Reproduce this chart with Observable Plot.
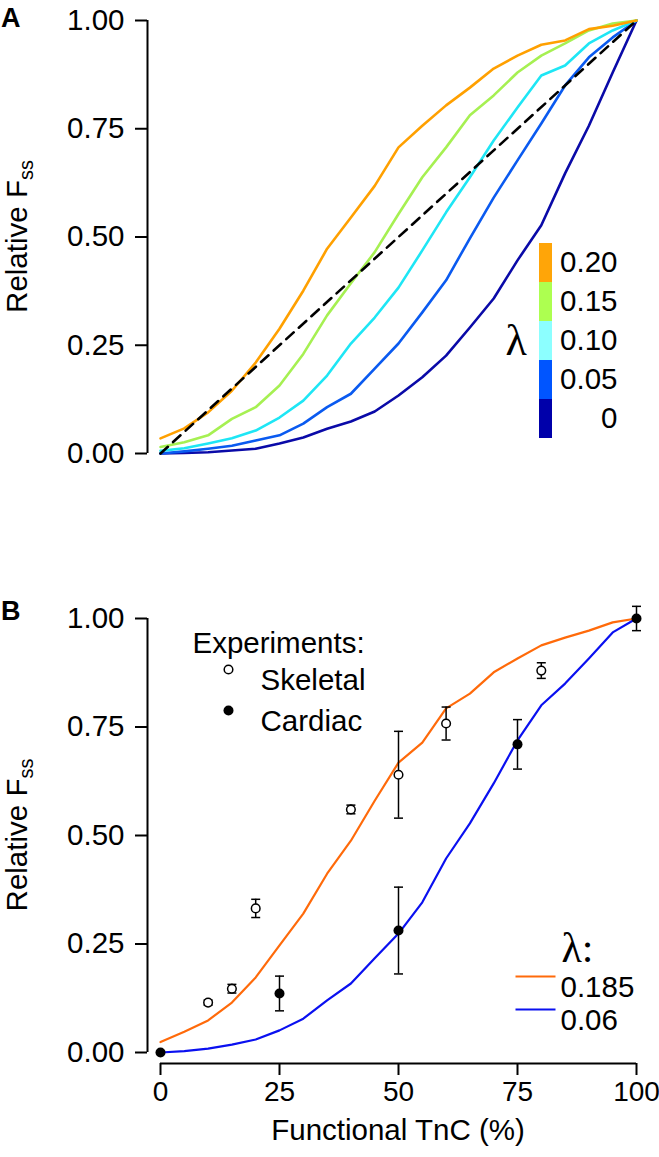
<!DOCTYPE html>
<html><head><meta charset="utf-8">
<script src="https://cdn.jsdelivr.net/npm/d3@7"></script>
<script src="https://cdn.jsdelivr.net/npm/@observablehq/plot@0.6"></script>
<style>
html,body{margin:0;padding:0;background:#fff;}
#wrap{position:relative;width:659px;height:1157px;overflow:hidden;}
#wrap > div{position:absolute;}
</style></head><body><div id="wrap"><div id="pa" style="left:0;top:0"></div><div id="cb" style="left:530px;top:231px"></div><div id="pb" style="left:0;top:560px"></div></div>
<script>
// ---------- data ----------
const tnc = [0,5,10,15,20,25,30,35,40,45,50,55,60,65,70,75,80,85,90,95,100];
// Panel A: relative Fss for each lambda
const lambdaLabels = ["0", "0.05", "0.10", "0.15", "0.20"];
const fssLam000 = [0,0.001,0.003,0.007,0.011,0.023,0.037,0.057,0.074,0.097,0.134,0.176,0.226,0.291,0.358,0.446,0.527,0.647,0.757,0.88,1.0];
const fssLam005 = [0,0.005,0.011,0.018,0.03,0.042,0.069,0.107,0.138,0.196,0.254,0.326,0.40,0.497,0.591,0.677,0.762,0.85,0.915,0.961,1.0];
const fssLam010 = [0.006,0.012,0.023,0.035,0.053,0.083,0.122,0.18,0.254,0.314,0.383,0.469,0.557,0.638,0.723,0.799,0.873,0.896,0.947,0.977,1.0];
const fssLam015 = [0.015,0.026,0.042,0.08,0.107,0.157,0.23,0.319,0.393,0.465,0.553,0.638,0.707,0.781,0.827,0.88,0.919,0.947,0.977,0.993,1.0];
const fssLam020 = [0.035,0.058,0.095,0.145,0.21,0.288,0.376,0.473,0.545,0.618,0.707,0.757,0.804,0.845,0.889,0.919,0.944,0.954,0.98,0.988,1.0];
const diagX = [0, 100];
const diagY = [0, 1];
// Panel B: model fits
const fitLambdas = ["0.185", "0.06"];
const fssFit185 = [0.024,0.048,0.074,0.115,0.173,0.247,0.32,0.412,0.488,0.58,0.668,0.714,0.793,0.827,0.876,0.908,0.938,0.956,0.972,0.991,1.0];
const fssFit06  = [0,0.003,0.009,0.018,0.03,0.051,0.078,0.12,0.159,0.217,0.274,0.346,0.447,0.528,0.62,0.719,0.8,0.85,0.908,0.968,1.0];
// Panel B: experiments
const skelX = [10,15,20,40,50,60,80];
const skelMean = [0.115,0.147,0.332,0.56,0.64,0.758,0.88];
const skelErr = [0.006,0.01,0.021,0.01,0.1,0.038,0.018];
const cardX = [0,25,50,75,100];
const cardMean = [0,0.136,0.281,0.71,1.0];
const cardErr = [0,0.04,0.1,0.057,0.028];
const yTicks = [0,0.25,0.5,0.75,1];
const xTicks = [0,25,50,75,100];

// ---------- styles ----------
const FS = 29.5;
const FONT = "'Liberation Sans', Arial, Helvetica, sans-serif";
const SERIF = "'Liberation Serif', 'Times New Roman', serif";
const colorsA = ["#0A0AA8", "#0A5AF0", "#1EE6F5", "#A6F052", "#FFA000"];
const colorbarColors = ["#0000AA", "#0055FF", "#8CFFFF", "#ADFF50", "#FFA508"];
const fitColors = ["#FF6A0A", "#0A10F0"];

const seriesA = [fssLam000, fssLam005, fssLam010, fssLam015, fssLam020];
const rowsA = [];
seriesA.forEach((vals, s) => vals.forEach((v, i) => rowsA.push({x: tnc[i], y: v, lam: lambdaLabels[s], color: colorsA[s]})));
const diag = diagX.map((x, i) => ({x, y: diagY[i]}));

const rowsB = [];
[fssFit185, fssFit06].forEach((vals, s) => vals.forEach((v, i) => rowsB.push({x: tnc[i], y: v, lam: fitLambdas[s], color: fitColors[s]})));
const skel = skelX.map((x, i) => ({x, y: skelMean[i], lo: skelMean[i] - skelErr[i], hi: skelMean[i] + skelErr[i]}));
const card = cardX.map((x, i) => ({x, y: cardMean[i], lo: cardMean[i] - cardErr[i], hi: cardMean[i] + cardErr[i]}));

const hbar = {draw(ctx, size) { const r = Math.sqrt(size / Math.PI); ctx.moveTo(-r, 0); ctx.lineTo(r, 0); }};
const baseStyle = {fontFamily: FONT, fontSize: FS + "px", background: "transparent", color: "black"};

function addYLabel(plot) {
  const yc = plot.scale("y").apply(0.5);
  const t = d3.select(plot).append("text")
    .attr("transform", `translate(27,${yc}) rotate(-90)`)
    .attr("text-anchor", "middle").attr("font-size", FS).attr("fill", "black");
  t.append("tspan").text("Relative F");
  t.append("tspan").attr("font-size", 20).attr("dy", 6).text("ss");
}
function addPanelLabel(plot, s, y) {
  d3.select(plot).append("text").attr("x", 1).attr("y", y).attr("text-anchor", "start")
    .attr("font-weight", "bold").attr("font-size", 27).attr("fill", "black").text(s);
}
const yAxis = () => Plot.axisY({anchor: "left", ticks: yTicks, tickFormat: ".2f", tickSize: 12, tickPadding: 11, label: null, strokeWidth: 2, fontSize: FS});

// ---------- Panel A ----------
const plotA = Plot.plot({
  width: 659, height: 470,
  marginTop: 20, marginBottom: 17, marginLeft: 147, marginRight: 23,
  style: baseStyle,
  x: {domain: [0, 100], insetLeft: 13, axis: null},
  y: {domain: [0, 1]},
  color: {type: "identity"},
  marks: [
    yAxis(),
    Plot.ruleX([0], {y1: 0, y2: 1, dx: -13, strokeWidth: 2}),
    Plot.line(rowsA, {x: "x", y: "y", z: "lam", stroke: "color", strokeWidth: 2.6}),
    Plot.line(diag, {x: "x", y: "y", stroke: "black", strokeWidth: 2.6, strokeDasharray: "10,7"})
  ]
});
addYLabel(plotA);
addPanelLabel(plotA, "A", 27);
document.getElementById("pa").append(plotA);

// colorbar legend for lambda
const cbOrder = lambdaLabels.slice().reverse();
const cbRows = cbOrder.map((l) => ({lam: l, color: colorbarColors[lambdaLabels.indexOf(l)]}));
const colorbar = Plot.plot({
  width: 100, height: 218,
  marginTop: 10, marginBottom: 10, marginLeft: 9, marginRight: 78,
  style: {...baseStyle, overflow: "visible"},
  y: {type: "band", domain: cbOrder, padding: 0, axis: null},
  color: {type: "identity"},
  marks: [
    Plot.cell(cbRows, {y: "lam", fill: "color"}),
    Plot.text(cbRows, {y: "lam", text: "lam", frameAnchor: "right", dx: 65, textAnchor: "end", fontSize: FS, fill: "black"}),
    Plot.text(["λ"], {frameAnchor: "left", dx: -34, text: d => d, fontSize: 44, fontFamily: SERIF, fill: "black"})
  ]
});
document.getElementById("cb").append(colorbar);

// ---------- Panel B ----------
const legendLine = (i) => Plot.dot([fitLambdas[i]], {frameAnchor: "top-left", dx: 388, dy: 358 + 33 * i, symbol: hbar, r: 20, stroke: fitColors[i], strokeWidth: 2.2});
const legendText = (s, dx, dy) => Plot.text([s], {frameAnchor: "top-left", dx, dy, text: d => d, textAnchor: "start", fontSize: FS, fill: "black"});
const plotB = Plot.plot({
  width: 659, height: 597,
  marginTop: 58, marginBottom: 94, marginLeft: 147, marginRight: 23,
  style: baseStyle,
  x: {domain: [0, 100], insetLeft: 13},
  y: {domain: [0, 1], insetBottom: 11},
  color: {type: "identity"},
  marks: [
    yAxis(),
    Plot.axisX({anchor: "bottom", ticks: xTicks, tickSize: 12, tickPadding: 6, label: null, strokeWidth: 2, fontSize: 28}),
    Plot.ruleX([0], {y1: 0, y2: 1, dx: -13, strokeWidth: 2}),
    Plot.ruleY([0], {x1: 0, x2: 100, dy: 11, strokeWidth: 2}),
    Plot.line(rowsB, {x: "x", y: "y", z: "lam", stroke: "color", strokeWidth: 2.2}),
    Plot.ruleX(skel, {x: "x", y1: "lo", y2: "hi", strokeWidth: 1.5}),
    Plot.dot(skel, {x: "x", y: "lo", symbol: hbar, r: 4.5, stroke: "black", strokeWidth: 1.5}),
    Plot.dot(skel, {x: "x", y: "hi", symbol: hbar, r: 4.5, stroke: "black", strokeWidth: 1.5}),
    Plot.dot(skel, {x: "x", y: "y", r: 4.3, stroke: "black", fill: "white", strokeWidth: 1.5}),
    Plot.ruleX(card, {x: "x", y1: "lo", y2: "hi", strokeWidth: 1.5}),
    Plot.dot(card, {x: "x", y: "lo", symbol: hbar, r: 4.5, stroke: "black", strokeWidth: 1.5}),
    Plot.dot(card, {x: "x", y: "hi", symbol: hbar, r: 4.5, stroke: "black", strokeWidth: 1.5}),
    Plot.dot(card, {x: "x", y: "y", r: 5, fill: "black"}),
    // legend: experiments
    legendText("Experiments:", 45, 14),
    Plot.dot(["Skeletal"], {frameAnchor: "top-left", dx: 81, dy: 51, r: 4.3, stroke: "black", fill: "white", strokeWidth: 1.5}),
    legendText("Skeletal", 113, 51),
    Plot.dot(["Cardiac"], {frameAnchor: "top-left", dx: 81, dy: 92, r: 5, fill: "black"}),
    legendText("Cardiac", 113, 92),
    // legend: lambda fits
    Plot.text(["λ:"], {frameAnchor: "top-left", dx: 414, dy: 314, text: d => d, textAnchor: "start", fontSize: 42, fontFamily: SERIF, fill: "black"}),
    legendLine(0), legendLine(1),
    legendText(fitLambdas[0], 413, 358),
    legendText(fitLambdas[1], 413, 391)
  ]
});
addYLabel(plotB);
addPanelLabel(plotB, "B", 60);
d3.select(plotB).append("text")
  .attr("x", plotB.scale("x").apply(50)).attr("y", 580)
  .attr("text-anchor", "middle").attr("font-size", FS).attr("fill", "black")
  .text("Functional TnC (%)");
document.getElementById("pb").append(plotB);
</script></body></html>
